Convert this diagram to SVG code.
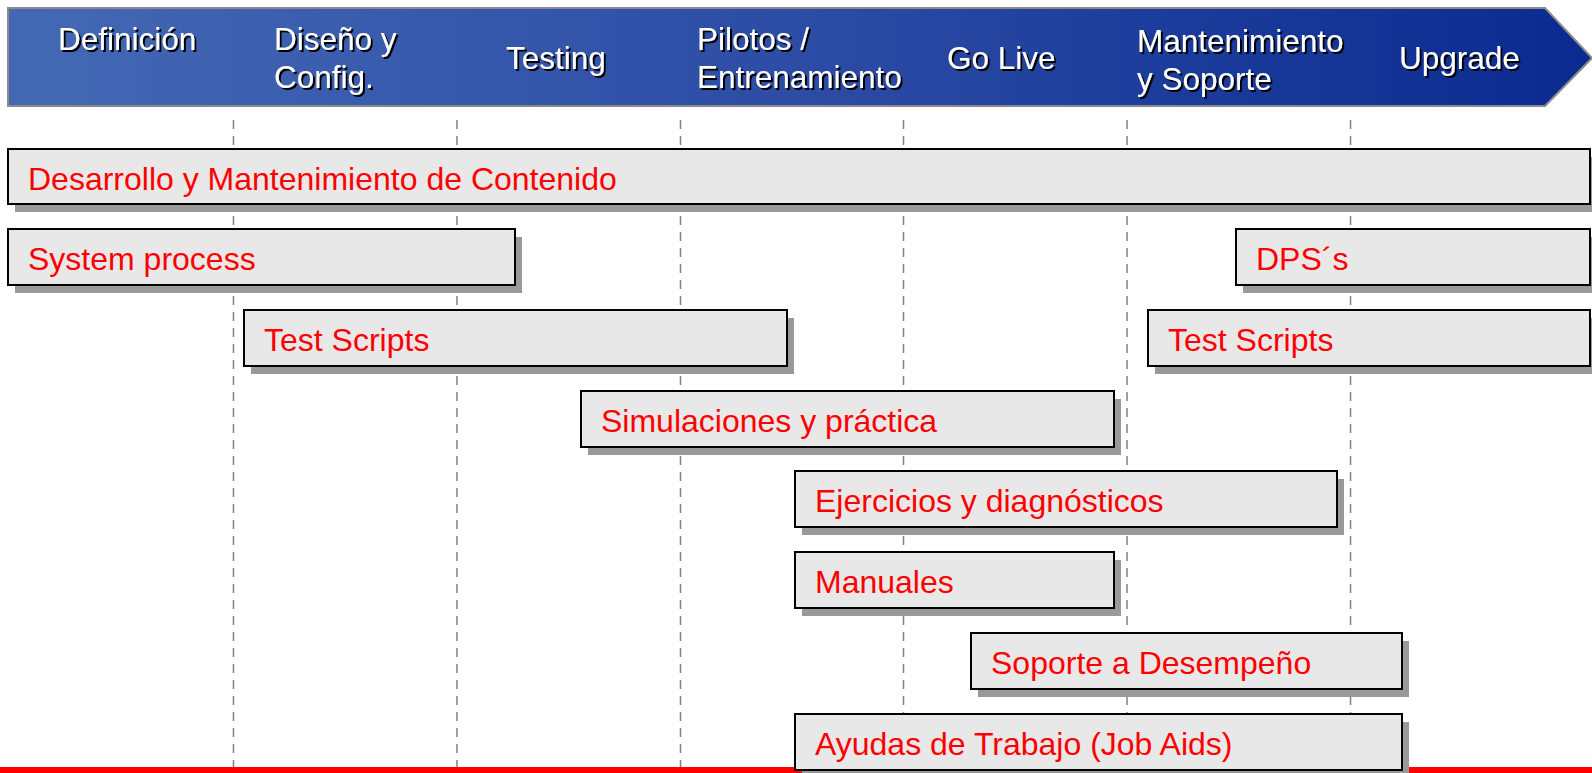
<svg xmlns="http://www.w3.org/2000/svg" width="1592" height="773" viewBox="0 0 1592 773">
<defs>
<linearGradient id="hdr" x1="0" y1="0" x2="1" y2="0">
<stop offset="0" stop-color="#4469B4"/>
<stop offset="0.5" stop-color="#2C4CA5"/>
<stop offset="1" stop-color="#0A2A90"/>
</linearGradient>
<filter id="ts" x="-5%" y="-20%" width="110%" height="140%">
<feDropShadow dx="2" dy="2" stdDeviation="0" flood-color="#000" flood-opacity="1"/>
</filter>
</defs>
<style>
.ht{font-family:"Liberation Sans",Arial,sans-serif;font-size:31.5px;fill:#fff;filter:url(#ts)}
.bx{fill:#E8E8E8;stroke:#000;stroke-width:2}
.sh{fill:#999}
.bt{font-family:"Liberation Sans",Arial,sans-serif;font-size:32px;fill:#FF0000}
.dl{stroke:#808080;stroke-width:1.5;stroke-dasharray:9,7;fill:none}
</style>
<rect width="1592" height="773" fill="#fff"/>
<g id="header">
<polygon points="8,8 1545,8 1592,58 1545,106 8,106" fill="url(#hdr)" stroke="#8A8A8A" stroke-width="2"/>
<text class="ht" x="58" y="50">Definición</text>
<text class="ht" x="274" y="50">Diseño y</text>
<text class="ht" x="274" y="88">Config.</text>
<text class="ht" x="506" y="69">Testing</text>
<text class="ht" x="697" y="50">Pilotos /</text>
<text class="ht" x="697" y="88">Entrenamiento</text>
<text class="ht" x="947" y="69">Go Live</text>
<text class="ht" x="1137" y="52">Mantenimiento</text>
<text class="ht" x="1137" y="90">y Soporte</text>
<text class="ht" x="1399" y="69">Upgrade</text>
</g>
<g id="connectors">
<line class="dl" x1="233.5" y1="120" x2="233.5" y2="773"/>
<line class="dl" x1="457" y1="120" x2="457" y2="773"/>
<line class="dl" x1="680.5" y1="120" x2="680.5" y2="773"/>
<line class="dl" x1="903.5" y1="120" x2="903.5" y2="773"/>
<line class="dl" x1="1127" y1="120" x2="1127" y2="773"/>
<line class="dl" x1="1350.5" y1="120" x2="1350.5" y2="773"/>
<line x1="0" y1="770" x2="1592" y2="770" stroke="#FF0000" stroke-width="6"/>
</g>
<g id="n1">
<rect class="sh" x="15" y="157" width="1582" height="55"/>
<rect class="bx" x="8" y="149" width="1582" height="55"/>
<text class="bt" x="28" y="190">Desarrollo y Mantenimiento de Contenido</text>
</g>
<g id="n2">
<rect class="sh" x="15" y="237" width="507" height="56"/>
<rect class="bx" x="8" y="229" width="507" height="56"/>
<text class="bt" x="28" y="270">System process</text>
</g>
<g id="n3">
<rect class="sh" x="1243" y="237" width="354" height="56"/>
<rect class="bx" x="1236" y="229" width="354" height="56"/>
<text class="bt" x="1256" y="270">DPS´s</text>
</g>
<g id="n4">
<rect class="sh" x="251" y="318" width="543" height="56"/>
<rect class="bx" x="244" y="310" width="543" height="56"/>
<text class="bt" x="264" y="351">Test Scripts</text>
</g>
<g id="n5">
<rect class="sh" x="1155" y="318" width="442" height="56"/>
<rect class="bx" x="1148" y="310" width="442" height="56"/>
<text class="bt" x="1168" y="351">Test Scripts</text>
</g>
<g id="n6">
<rect class="sh" x="588" y="399" width="533" height="56"/>
<rect class="bx" x="581" y="391" width="533" height="56"/>
<text class="bt" x="601" y="432">Simulaciones y práctica</text>
</g>
<g id="n7">
<rect class="sh" x="802" y="479" width="542" height="56"/>
<rect class="bx" x="795" y="471" width="542" height="56"/>
<text class="bt" x="815" y="512">Ejercicios y diagnósticos</text>
</g>
<g id="n8">
<rect class="sh" x="802" y="560" width="319" height="56"/>
<rect class="bx" x="795" y="552" width="319" height="56"/>
<text class="bt" x="815" y="593">Manuales</text>
</g>
<g id="n9">
<rect class="sh" x="978" y="641" width="431" height="56"/>
<rect class="bx" x="971" y="633" width="431" height="56"/>
<text class="bt" x="991" y="674">Soporte a Desempeño</text>
</g>
<g id="n10">
<rect class="sh" x="802" y="722" width="607" height="56"/>
<rect class="bx" x="795" y="714" width="607" height="56"/>
<text class="bt" x="815" y="755">Ayudas de Trabajo (Job Aids)</text>
</g>
</svg>
